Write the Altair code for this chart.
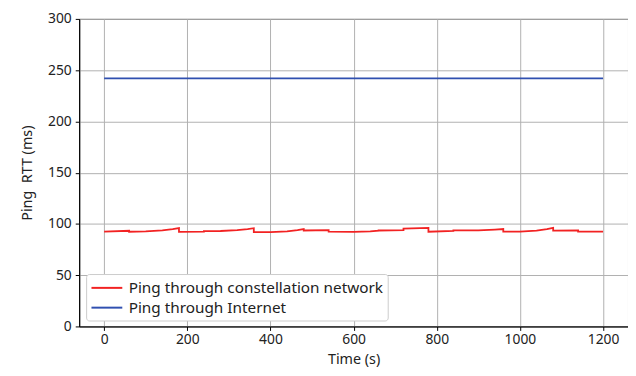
import altair as alt
import pandas as pd

series_names = ["Ping through constellation network", "Ping through Internet"]
series_colors = ["#f22222", "#3050b0"]

red_t = [0, 60, 60, 100, 140, 165, 180, 180, 240, 240, 280, 320, 345, 360,
         360, 400, 440, 465, 480, 480, 540, 540, 600, 640, 660, 660, 720,
         720, 780, 780, 840, 840, 900, 940, 960, 960, 1000, 1040, 1065, 1080,
         1080, 1140, 1140, 1200]
red_v = [92.4, 93.3, 92.4, 92.8, 93.8, 94.9, 96.0, 92.2, 92.5, 92.9, 93.1, 94.0, 95.0, 95.8,
         92.0, 92.0, 92.8, 94.0, 95.0, 93.6, 94.0, 92.4, 92.2, 92.8, 93.4, 93.6, 93.9,
         95.4, 96.2, 92.4, 93.2, 93.7, 93.8, 94.5, 95.0, 92.4, 92.4, 93.5, 95.0, 96.2,
         93.5, 93.6, 92.4, 92.4]

blue_t = [0, 1200]
blue_v = [242, 242]

x_ticks = [0, 200, 400, 600, 800, 1000, 1200]
y_ticks = [0, 50, 100, 150, 200, 250, 300]

rows = []
for i, (t, v) in enumerate(zip(red_t, red_v)):
    rows.append({"t": t, "v": v, "s": series_names[0], "o": i})
for i, (t, v) in enumerate(zip(blue_t, blue_v)):
    rows.append({"t": t, "v": v, "s": series_names[1], "o": i})
df = pd.DataFrame(rows)

FONT = "Noto Sans"

chart = alt.Chart(df).mark_line(strokeWidth=1.8).encode(
    x=alt.X("t:Q", title="Time (s)",
            scale=alt.Scale(domain=[-60, 1260], nice=False, zero=False),
            axis=alt.Axis(values=x_ticks, format="d", titleBaseline="bottom", titleY=40,
                          labelPadding=2)),
    y=alt.Y("v:Q", title="Ping\u00a0 RTT (ms)",
            scale=alt.Scale(domain=[0, 300], nice=False),
            axis=alt.Axis(values=y_ticks, format="d")),
    color=alt.Color("s:N", scale=alt.Scale(domain=series_names, range=series_colors),
                    legend=alt.Legend(title=None, orient="none", legendX=7, legendY=258,
                                      symbolType="M-1.8,0H1.8", symbolStrokeWidth=2,
                                      symbolSize=300, symbolOffset=7,
                                      labelFontSize=15.5, labelFont=FONT,
                                      labelColor="#222222", labelOffset=12,
                                      rowPadding=1, padding=4, labelLimit=400,
                                      fillColor="white", strokeColor="#cccccc",
                                      cornerRadius=3)),
    order="o:Q",
).properties(
    width=555, height=311,
    autosize=alt.AutoSizeParams(type="none"),
    padding={"left": 72, "top": 9, "right": 0, "bottom": 40},
).configure_view(
    stroke="black", strokeWidth=1
).configure_axis(
    grid=True, gridColor="#b0b0b0", gridWidth=1,
    domainColor="black", tickColor="black", tickSize=4,
    labelFont=FONT, labelFontSize=14, labelColor="#222222",
    titleFont=FONT, titleFontSize=14.5, titleFontWeight="normal", titleColor="#222222",
    labelPadding=4,
).configure_axisY(titlePadding=13)

chart.save("out.html", embed_options={"renderer": "svg", "actions": False})
